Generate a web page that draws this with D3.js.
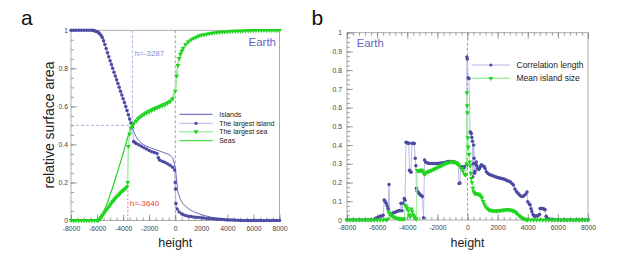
<!DOCTYPE html>
<html>
<head>
<meta charset="utf-8">
<script src="https://cdn.jsdelivr.net/npm/d3@7"></script>
<style>
body { margin: 0; background: #fff; }
svg { display: block; font-family: "Liberation Sans", Arial, Helvetica, sans-serif; }
</style>
</head>
<body>
<svg id="chart" width="623" height="277"></svg>
<script>
'use strict';

// tick labels
const xTicks = [-8000, -6000, -4000, -2000, 0, 2000, 4000, 6000, 8000];
const yTicksA = [0, 0.2, 0.4, 0.6, 0.8, 1];
const yTicksB = [0, 0.1, 0.2, 0.3, 0.4, 0.5, 0.6, 0.7, 0.8, 0.9, 1];

// panel a: heights every 200 m
const heightsA = d3.range(-8000, 8001, 200);
const islands = [1, 1, 1, 1, 1, 1, 1, 1, 1,
	0.998, 0.993, 0.985, 0.965, 0.925, 0.882, 0.84, 0.8, 0.76, 0.72, 0.68, 0.64, 0.6, 0.556, 0.512, 0.47,
	0.44, 0.42, 0.407, 0.398, 0.391, 0.385, 0.38, 0.375, 0.37, 0.365, 0.36, 0.355, 0.35, 0.343, 0.33,
	0.28, 0.15, 0.11, 0.088, 0.074, 0.063, 0.054, 0.047, 0.041, 0.036, 0.031, 0.027, 0.023, 0.02, 0.017,
	0.015, 0.013, 0.011, 0.009, 0.008, 0.007, 0.006, 0.005, 0.004, 0.003, 0.003, 0.002, 0.002, 0.001, 0.001,
	0, 0, 0, 0, 0, 0, 0, 0, 0, 0, 0];
const seas = [0, 0, 0, 0, 0, 0, 0, 0, 0, 0,
	0.003, 0.015, 0.035, 0.06, 0.095, 0.135, 0.175, 0.218, 0.262, 0.307, 0.352, 0.4, 0.448, 0.49, 0.515,
	0.533, 0.547, 0.558, 0.567, 0.575, 0.582, 0.589, 0.595, 0.601, 0.607, 0.613, 0.619, 0.626, 0.634, 0.648,
	0.685, 0.82, 0.878, 0.908, 0.928, 0.942, 0.952, 0.96, 0.966, 0.971, 0.975, 0.978, 0.981, 0.984, 0.986,
	0.988, 0.99, 0.991, 0.992, 0.993, 0.994, 0.995, 0.996, 0.996, 0.997, 0.997, 0.998, 0.998, 0.998, 0.999, 0.999,
	1, 1, 1, 1, 1, 1, 1, 1, 1, 1];

// [height, value]
const largestIsland = [[-8000, 1], [-7800, 1], [-7600, 1], [-7400, 1], [-7200, 1], [-7000, 1], [-6800, 1], [-6600, 1],
	[-6400, 1], [-6300, 0.999], [-6200, 0.997], [-6100, 0.995], [-6000, 0.992], [-5900, 0.988], [-5800, 0.982],
	[-5700, 0.974], [-5600, 0.962], [-5500, 0.945], [-5400, 0.925], [-5300, 0.904], [-5200, 0.882], [-5100, 0.861],
	[-5000, 0.84], [-4900, 0.82], [-4800, 0.8], [-4700, 0.78], [-4600, 0.76], [-4500, 0.74], [-4400, 0.72],
	[-4300, 0.7], [-4200, 0.68], [-4100, 0.66], [-4000, 0.64], [-3900, 0.62], [-3800, 0.6], [-3700, 0.578],
	[-3600, 0.556], [-3500, 0.534], [-3400, 0.512], [-3300, 0.49], [-3200, 0.415], [-3100, 0.41], [-3000, 0.405],
	[-2800, 0.398], [-2600, 0.39], [-2400, 0.383], [-2200, 0.376], [-2000, 0.368], [-1800, 0.362], [-1600, 0.357],
	[-1400, 0.352], [-1300, 0.33], [-1200, 0.318], [-1000, 0.312], [-800, 0.306], [-600, 0.298], [-400, 0.29],
	[-200, 0.28], [-50, 0.265], [0, 0.2], [20, 0.165], [50, 0.09], [150, 0.06], [300, 0.045], [500, 0.035],
	[600, 0.03], [800, 0.026], [1000, 0.023], [1200, 0.021], [1400, 0.019], [1600, 0.017], [1800, 0.016],
	[2000, 0.014], [2200, 0.013], [2400, 0.011], [2600, 0.01], [2800, 0.009], [3000, 0.008], [3200, 0.007],
	[3400, 0.006], [3600, 0.005], [3800, 0.004], [4000, 0.003], [4200, 0.002], [4400, 0.002], [4600, 0.001],
	[4800, 0.001], [5000, 0], [5200, 0], [5400, 0], [5600, 0], [5800, 0], [6000, 0], [6200, 0], [6400, 0],
	[6600, 0], [6800, 0], [7000, 0], [7200, 0], [7400, 0], [7600, 0], [7800, 0], [8000, 0]];

const largestSea = [[-8000, 0], [-7800, 0], [-7600, 0], [-7400, 0], [-7200, 0], [-7000, 0], [-6800, 0], [-6600, 0],
	[-6400, 0], [-6200, 0], [-6000, 0], [-5900, 0.002], [-5800, 0.006], [-5700, 0.015], [-5600, 0.025],
	[-5500, 0.035], [-5400, 0.045], [-5300, 0.055], [-5200, 0.063], [-5100, 0.072], [-5000, 0.082], [-4900, 0.091],
	[-4800, 0.1], [-4700, 0.108], [-4600, 0.117], [-4500, 0.124], [-4400, 0.131], [-4300, 0.138], [-4200, 0.145],
	[-4100, 0.152], [-4000, 0.158], [-3900, 0.164], [-3800, 0.17], [-3700, 0.178], [-3650, 0.2], [-3600, 0.39],
	[-3500, 0.455], [-3400, 0.485], [-3300, 0.5], [-3200, 0.508], [-3000, 0.523], [-2800, 0.537], [-2600, 0.548],
	[-2400, 0.557], [-2200, 0.565], [-2000, 0.572], [-1800, 0.579], [-1600, 0.585], [-1400, 0.591], [-1200, 0.597],
	[-1000, 0.603], [-800, 0.609], [-600, 0.616], [-400, 0.625], [-200, 0.64], [0, 0.68], [100, 0.76], [200, 0.815],
	[300, 0.852], [400, 0.875], [500, 0.89], [600, 0.905], [800, 0.926], [1000, 0.94], [1200, 0.95], [1400, 0.958],
	[1600, 0.964], [1800, 0.97], [2000, 0.974], [2200, 0.977], [2400, 0.98], [2600, 0.983], [2800, 0.985],
	[3000, 0.987], [3200, 0.989], [3400, 0.99], [3600, 0.991], [3800, 0.992], [4000, 0.993], [4200, 0.994],
	[4400, 0.995], [4600, 0.996], [4800, 0.996], [5000, 0.997], [5200, 0.997], [5400, 0.998], [5600, 0.998],
	[5800, 0.999], [6000, 0.999], [6200, 1], [6400, 1], [6600, 1], [6800, 1], [7000, 1], [7200, 1], [7400, 1],
	[7600, 1], [7800, 1], [8000, 1]];

// panel b
const corrLength = [[-8000, 0], [-7800, 0], [-7600, 0], [-7400, 0], [-7200, 0], [-7000, 0], [-6800, 0], [-6600, 0],
	[-6400, 0], [-6200, 0.002], [-6100, 0.01], [-6000, 0.012], [-5900, 0.015], [-5800, 0.02], [-5700, 0.022],
	[-5600, 0.025], [-5530, 0.107], [-5470, 0.1], [-5400, 0.09], [-5330, 0.075], [-5270, 0.06], [-5210, 0.19],
	[-5150, 0.03], [-5080, 0.028], [-5000, 0.035], [-4900, 0.04], [-4800, 0.042], [-4700, 0.045], [-4600, 0.05],
	[-4500, 0.05], [-4420, 0.09], [-4350, 0.05], [-4280, 0.09], [-4200, 0.115], [-4150, 0.105], [-4080, 0.415],
	[-4000, 0.413], [-3950, 0.41], [-3900, 0.41], [-3850, 0.265], [-3800, 0.26], [-3750, 0.255], [-3690, 0.41],
	[-3630, 0.408], [-3580, 0.41], [-3530, 0.408], [-3470, 0.33], [-3430, 0.29], [-3390, 0.17], [-3350, 0.155],
	[-3300, 0.148], [-3250, 0.145], [-3200, 0.14], [-3140, 0.135], [-3050, 0.13], [-3000, 0.125], [-2920, 0.012],
	[-2850, 0.32], [-2780, 0.31], [-2700, 0.305], [-2600, 0.303], [-2500, 0.302], [-2400, 0.302], [-2300, 0.302],
	[-2200, 0.302], [-2100, 0.302], [-2000, 0.302], [-1900, 0.303], [-1800, 0.303], [-1700, 0.304], [-1600, 0.305],
	[-1500, 0.307], [-1400, 0.31], [-1300, 0.312], [-1200, 0.313], [-1100, 0.313], [-1000, 0.312], [-900, 0.31],
	[-800, 0.308], [-700, 0.303], [-620, 0.298], [-560, 0.195], [-500, 0.198], [-440, 0.28], [-380, 0.285],
	[-300, 0.283], [-220, 0.28], [-150, 0.285], [-80, 0.29], [-40, 0.87], [-10, 0.86], [40, 0.76], [100, 0.755],
	[170, 0.47], [210, 0.468], [250, 0.46], [290, 0.44], [330, 0.42], [350, 0.23], [380, 0.3], [410, 0.4],
	[440, 0.33], [470, 0.25], [500, 0.26], [540, 0.3], [580, 0.31], [620, 0.29], [680, 0.275], [740, 0.27],
	[800, 0.275], [860, 0.285], [920, 0.295], [1000, 0.29], [1100, 0.285], [1170, 0.275], [1250, 0.258],
	[1350, 0.25], [1450, 0.243], [1550, 0.24], [1650, 0.237], [1750, 0.234], [1850, 0.231], [1950, 0.228],
	[2050, 0.226], [2150, 0.224], [2250, 0.222], [2350, 0.22], [2450, 0.217], [2550, 0.213], [2650, 0.21],
	[2750, 0.207], [2850, 0.203], [2950, 0.195], [3050, 0.187], [3150, 0.165], [3250, 0.152], [3350, 0.143],
	[3450, 0.135], [3550, 0.127], [3650, 0.125], [3750, 0.13], [3850, 0.138], [3950, 0.15], [4000, 0.098],
	[4100, 0.085], [4160, 0.08], [4220, 0.06], [4270, 0.045], [4350, 0.03], [4420, 0.022], [4490, 0.02],
	[4560, 0.022], [4640, 0.022], [4710, 0.025], [4780, 0.03], [4820, 0.062], [4900, 0.062], [4970, 0.061],
	[5040, 0.06], [5100, 0.058], [5150, 0.055], [5220, 0.02], [5270, 0.009], [5350, 0.006], [5450, 0.004],
	[5550, 0.003], [5650, 0.002], [5800, 0.001], [6000, 0], [6200, 0], [6400, 0], [6600, 0], [6800, 0],
	[7000, 0], [7200, 0], [7400, 0], [7600, 0], [7800, 0], [8000, 0]];

const meanIslandSize = [[-8000, 0], [-7800, 0], [-7600, 0], [-7400, 0], [-7200, 0], [-7000, 0], [-6800, 0],
	[-6600, 0], [-6400, 0], [-6200, 0], [-6000, 0], [-5800, 0], [-5600, 0], [-5400, 0], [-5300, 0.005],
	[-5240, 0.045], [-5170, 0.035], [-5100, 0.027], [-5000, 0.02], [-4900, 0.016], [-4800, 0.013], [-4700, 0.01],
	[-4600, 0.008], [-4500, 0.006], [-4400, 0.005], [-4300, 0.005], [-4200, 0.006], [-4130, 0.08], [-4070, 0.072],
	[-4000, 0.062], [-3930, 0.05], [-3870, 0.027], [-3800, 0.018], [-3720, 0.06], [-3660, 0.045], [-3600, 0.027],
	[-3530, 0.018], [-3470, 0.01], [-3400, 0.005], [-3340, 0.265], [-3270, 0.263], [-3200, 0.262], [-3130, 0.265],
	[-3060, 0.267], [-3000, 0.262], [-2920, 0.25], [-2850, 0.245], [-2780, 0.25], [-2700, 0.255], [-2600, 0.258],
	[-2500, 0.262], [-2400, 0.265], [-2300, 0.268], [-2200, 0.272], [-2100, 0.276], [-2000, 0.28], [-1900, 0.284],
	[-1800, 0.288], [-1700, 0.292], [-1600, 0.296], [-1500, 0.3], [-1400, 0.303], [-1300, 0.306], [-1200, 0.308],
	[-1100, 0.31], [-1000, 0.31], [-900, 0.309], [-800, 0.307], [-700, 0.303], [-600, 0.297], [-500, 0.288],
	[-400, 0.275], [-300, 0.262], [-200, 0.245], [-120, 0.24], [-60, 0.3], [-40, 0.68], [-20, 0.61], [0, 0.573],
	[30, 0.44], [60, 0.39], [100, 0.35], [140, 0.31], [180, 0.29], [220, 0.25], [260, 0.222], [300, 0.2],
	[360, 0.17], [420, 0.151], [480, 0.142], [560, 0.14], [640, 0.14], [720, 0.138], [800, 0.135], [880, 0.128],
	[960, 0.118], [1040, 0.1], [1120, 0.085], [1200, 0.072], [1300, 0.062], [1400, 0.055], [1500, 0.052],
	[1600, 0.05], [1700, 0.049], [1800, 0.048], [1900, 0.048], [2000, 0.049], [2100, 0.05], [2200, 0.051],
	[2300, 0.052], [2400, 0.053], [2500, 0.054], [2600, 0.055], [2700, 0.055], [2800, 0.054], [2900, 0.052],
	[3000, 0.05], [3100, 0.046], [3200, 0.04], [3300, 0.033], [3400, 0.025], [3500, 0.018], [3600, 0.012],
	[3700, 0.008], [3800, 0.005], [3900, 0.002], [4000, 0], [4200, 0], [4400, 0], [4600, 0], [4800, 0], [5000, 0],
	[5200, 0], [5400, 0], [5600, 0], [5800, 0], [6000, 0], [6200, 0], [6400, 0], [6600, 0], [6800, 0], [7000, 0],
	[7200, 0], [7400, 0], [7600, 0], [7800, 0], [8000, 0]];

const purple = '#4b4ba3';
const lavender = '#b4b4e4';
const green = '#1fd41f';
const lightGreen = '#a6eea6';
const font = '"Liberation Sans", Arial, Helvetica, sans-serif';

const svg = d3.select('#chart');

const xA = d3.scaleLinear().domain([-8000, 8000]).range([71, 279.5]);
const yA = d3.scaleLinear().domain([0, 1]).range([220.5, 30.3]);
const xB = d3.scaleLinear().domain([-8000, 8000]).range([347, 588]);
const yB = d3.scaleLinear().domain([0, 1]).range([220, 32.7]);

const styleAxis = sel => {
	sel.select('.domain').remove();
	sel.selectAll('line').attr('stroke', '#777').attr('stroke-width', 0.7);
	sel.selectAll('text').attr('fill', '#444').attr('font-size', 6.8).attr('font-family', font);
};

const drawAxes = (x, y, opts) => {
	const [bottom, top] = y.range();
	const [left, right] = x.range();
	const g = svg.append('g');
	g.append('rect')
		.attr('x', left).attr('y', top)
		.attr('width', right - left).attr('height', bottom - top)
		.attr('fill', 'none').attr('stroke', '#9a9a9a').attr('stroke-width', 0.8);
	// bottom
	g.append('g').attr('transform', `translate(0,${bottom})`)
		.call(d3.axisBottom(x).tickValues(d3.range(-8000, 8001, opts.xMinor)).tickSize(-3).tickFormat(''))
		.call(styleAxis);
	g.append('g').attr('transform', `translate(0,${bottom})`)
		.call(d3.axisBottom(x).tickValues(xTicks).tickSize(-6).tickPadding(5.5).tickFormat(d => String(d)))
		.call(styleAxis);
	// left
	g.append('g').attr('transform', `translate(${left},0)`)
		.call(d3.axisLeft(y).tickValues(d3.range(0, 1.0001, opts.yMinor)).tickSize(-3).tickFormat(''))
		.call(styleAxis);
	g.append('g').attr('transform', `translate(${left},0)`)
		.call(d3.axisLeft(y).tickValues(opts.yTicks).tickSize(-6).tickPadding(opts.yPad)
			.tickFormat(d => String(+d.toFixed(1))))
		.call(styleAxis);
	if (opts.top) {
		g.append('g').attr('transform', `translate(0,${top})`)
			.call(d3.axisTop(x).tickValues(d3.range(-8000, 8001, opts.xMinor)).tickSize(-3).tickFormat(''))
			.call(styleAxis);
		g.append('g').attr('transform', `translate(0,${top})`)
			.call(d3.axisTop(x).tickValues(xTicks).tickSize(-6).tickFormat(''))
			.call(styleAxis);
	}
	// axis title
	svg.append('text')
		.attr('x', (left + right) / 2).attr('y', 247)
		.attr('text-anchor', 'middle').attr('font-size', 12.5).attr('fill', '#222')
		.attr('font-family', font).text('height');
};

const dashed = (x1, y1, x2, y2, color, dash) => svg.append('line')
	.attr('x1', x1).attr('y1', y1).attr('x2', x2).attr('y2', y2)
	.attr('stroke', color).attr('stroke-width', 0.8).attr('stroke-dasharray', dash);

const drawLine = (data, x, y, color, width) => svg.append('path')
	.datum(data)
	.attr('fill', 'none').attr('stroke', color).attr('stroke-width', width)
	.attr('d', d3.line().x(d => x(d[0])).y(d => y(d[1])));

const drawDots = (data, x, y, r) => svg.append('g').selectAll('circle')
	.data(data).join('circle')
	.attr('cx', d => x(d[0])).attr('cy', d => y(d[1])).attr('r', r).attr('fill', purple);

const triangle = d3.symbol(d3.symbolTriangle, 10)();
const drawTriangles = (data, x, y) => svg.append('g').selectAll('path')
	.data(data).join('path')
	.attr('d', triangle).attr('fill', green)
	.attr('transform', d => `translate(${x(d[0])},${y(d[1])}) rotate(180)`);

const legendRow = (x0, x1, y, label, kind, size) => {
	const lineCol = {islands: '#5a5ab4', largestIsland: lavender, largestSea: lightGreen, seas: green}[kind];
	svg.append('line').attr('x1', x0).attr('x2', x1).attr('y1', y).attr('y2', y)
		.attr('stroke', lineCol).attr('stroke-width', kind === 'largestSea' ? 1.6 : 1);
	if (kind === 'largestIsland') {
		svg.append('circle').attr('cx', (x0 + x1) / 2).attr('cy', y).attr('r', 1.6).attr('fill', purple);
	}
	if (kind === 'largestSea') {
		svg.append('path').attr('d', triangle).attr('fill', green)
			.attr('transform', `translate(${(x0 + x1) / 2},${y}) rotate(180)`);
	}
	svg.append('text').attr('x', x1 + 6.5).attr('y', y).attr('dy', '0.35em')
		.attr('font-size', size).attr('fill', '#222').attr('font-family', font).text(label);
};

// ---- panel a
drawAxes(xA, yA, {xMinor: 500, yMinor: 0.05, yTicks: yTicksA, yPad: 3, top: false});

dashed(xA(0), yA(1), xA(0), yA(0), '#888', '3,2');
dashed(xA(-3287), yA(1), xA(-3287), yA(0.5), '#9c9cdc', '3,2');
dashed(xA(-8000), yA(0.5), xA(-3287), yA(0.5), '#9c9cdc', '3,2');
dashed(xA(-3640), yA(0.18), xA(-3640), yA(0), '#e45050', '2,2');

drawLine(heightsA.map((h, i) => [h, islands[i]]), xA, yA, '#5a5ab4', 0.9);
drawLine(largestIsland, xA, yA, lavender, 1);
drawDots(largestIsland, xA, yA, 1.75);
drawLine(heightsA.map((h, i) => [h, seas[i]]), xA, yA, green, 1.2);
drawLine(largestSea, xA, yA, lightGreen, 1.5);
drawTriangles(largestSea, xA, yA);

svg.append('text').attr('x', 134.7).attr('y', 55.5).attr('font-size', 8).attr('fill', '#8c8cd2')
	.attr('font-family', font).text('h=-3287');
svg.append('text').attr('x', 129.7).attr('y', 205.5).attr('font-size', 8).attr('fill', '#e23c3c')
	.attr('font-family', font).text('h=-3640');
svg.append('text').attr('x', 276).attr('y', 45.7).attr('text-anchor', 'end').attr('font-size', 11.5)
	.attr('fill', '#6464b8').attr('font-family', font).text('Earth');

legendRow(179.3, 212.7, 114.3, 'Islands', 'islands', 7);
legendRow(179.3, 212.7, 123.3, 'The largest island', 'largestIsland', 7);
legendRow(179.3, 212.7, 131.7, 'The largest sea', 'largestSea', 7);
legendRow(179.3, 212.7, 140.7, 'Seas', 'seas', 7);

svg.append('text')
	.attr('transform', 'translate(54,125) rotate(-90)')
	.attr('text-anchor', 'middle').attr('font-size', 14).attr('fill', '#222')
	.attr('font-family', font).text('relative surface area');

svg.append('text').attr('x', 21).attr('y', 25).attr('font-size', 21).attr('fill', '#111')
	.attr('font-family', font).text('a');

// ---- panel b
drawAxes(xB, yB, {xMinor: 400, yMinor: 0.025, yTicks: yTicksB, yPad: 5, top: true});

dashed(xB(0), yB(1), xB(0), yB(0), '#888', '3,2');

drawLine(corrLength, xB, yB, lavender, 0.9);
drawDots(corrLength, xB, yB, 1.75);
drawLine(meanIslandSize, xB, yB, lightGreen, 1.2);
drawTriangles(meanIslandSize, xB, yB);

svg.append('text').attr('x', 356.7).attr('y', 47.3).attr('font-size', 11.3)
	.attr('fill', '#6464b8').attr('font-family', font).text('Earth');

legendRow(471.7, 510, 65, 'Correlation length', 'largestIsland', 8.5);
legendRow(471.7, 510, 78.3, 'Mean island size', 'largestSea', 8.5);

svg.append('text').attr('x', 311.5).attr('y', 25).attr('font-size', 21).attr('fill', '#111')
	.attr('font-family', font).text('b');
</script>
</body>
</html>
